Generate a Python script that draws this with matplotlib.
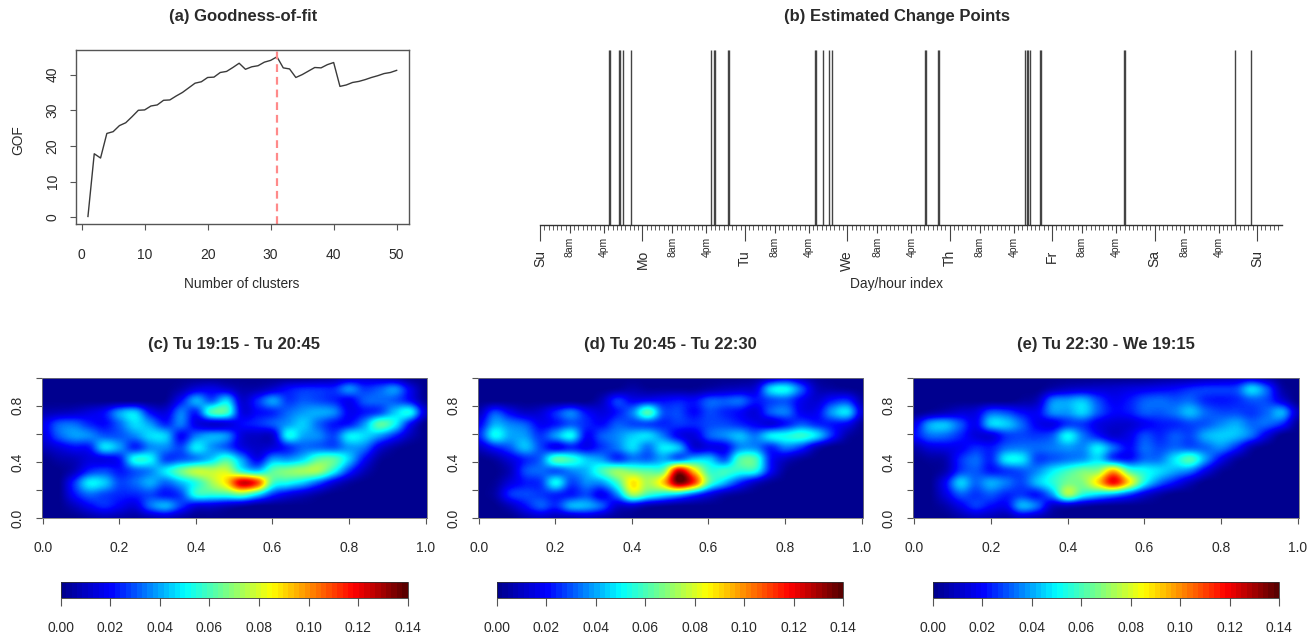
# ==============================================================
# Goodness-of-fit, change points and density maps, 5 panels
import numpy as np
import matplotlib
matplotlib.use("Agg")
import matplotlib.pyplot as plt
from matplotlib.cm import ScalarMappable
from matplotlib.colors import LinearSegmentedColormap, Normalize

plt.rcParams['font.family'] = ['Liberation Sans', 'DejaVu Sans']

# ==============================================================
# Data
n_clusters = list(range(1, 51))
gof = [0.2, 17.8, 16.6, 23.5, 24.0, 25.7, 26.5, 28.2, 30.0, 30.1,
       31.2, 31.5, 32.8, 32.9, 34.0, 35.0, 36.3, 37.6, 38.0, 39.2,
       39.3, 40.6, 40.9, 42.0, 43.2, 41.5, 42.2, 42.5, 43.5, 44.0,
       45.0, 41.9, 41.6, 39.2, 40.0, 41.0, 42.0, 41.9, 42.8, 43.4,
       36.7, 37.1, 37.8, 38.1, 38.6, 39.2, 39.7, 40.3, 40.6, 41.2]
best_k = 31

# change points, hours since Sunday midnight
change_points = [16.25, 16.5, 18.5, 18.75, 19.5, 21.25, 40.0, 40.75, 41.0, 44.0, 44.25,
                 64.5, 64.75, 66.25, 67.75, 68.5, 90.25, 90.5, 93.25, 93.5,
                 113.75, 114.0, 114.25, 114.75, 117.25, 117.5, 136.75, 137.0, 162.75, 166.5]
day_names = ['Su', 'Mo', 'Tu', 'We', 'Th', 'Fr', 'Sa', 'Su']
hour_names = ['8am', '4pm']
hour_offsets = [7, 15]

titles = ['(a) Goodness-of-fit', '(b) Estimated Change Points',
          '(c) Tu 19:15 - Tu 20:45', '(d) Tu 20:45 - Tu 22:30', '(e) Tu 22:30 - We 19:15']

# densities x 1000, rows from y=1 down to y=0, columns x=0 to x=1 (step .04)
density_c = [
    [0, 0, 0, 0, 0, 0, 0, 0, 0, 0, 0, 0, 0, 0, 0, 0, 0, 0, 2, 5, 10, 12, 10, 6, 0, 0],
    [0, 0, 0, 0, 0, 0, 0, 0, 0, 5, 14, 16, 12, 5, 6, 12, 20, 24, 24, 24, 36, 26, 30, 36, 16, 0],
    [0, 0, 0, 0, 0, 0, 0, 0, 2, 20, 40, 30, 45, 12, 24, 38, 26, 30, 28, 24, 18, 30, 32, 30, 20, 2],
    [6, 8, 10, 14, 20, 38, 44, 20, 14, 34, 24, 58, 58, 16, 20, 24, 32, 38, 40, 36, 18, 22, 28, 44, 50, 12],
    [16, 30, 32, 24, 20, 32, 46, 38, 24, 34, 16, 12, 14, 20, 24, 30, 38, 44, 32, 22, 22, 38, 62, 50, 20, 0],
    [14, 30, 38, 36, 30, 30, 36, 46, 44, 20, 34, 40, 36, 14, 10, 12, 50, 40, 36, 28, 48, 46, 38, 24, 8, 0],
    [8, 14, 20, 22, 46, 38, 24, 36, 36, 28, 48, 38, 30, 16, 10, 14, 24, 32, 32, 30, 38, 34, 14, 4, 0, 0],
    [0, 5, 8, 14, 16, 22, 52, 50, 28, 30, 36, 45, 58, 38, 18, 38, 38, 46, 62, 62, 44, 20, 3, 0, 0, 0],
    [0, 0, 8, 24, 28, 22, 30, 36, 48, 64, 76, 76, 78, 55, 45, 62, 68, 72, 72, 52, 26, 8, 0, 0, 0, 0],
    [0, 0, 24, 48, 44, 28, 32, 40, 32, 42, 55, 72, 90, 124, 110, 60, 52, 44, 30, 14, 4, 0, 0, 0, 0, 0],
    [0, 0, 20, 32, 28, 24, 24, 28, 22, 28, 54, 56, 58, 64, 48, 26, 16, 10, 4, 0, 0, 0, 0, 0, 0, 0],
    [0, 0, 8, 18, 24, 18, 14, 32, 40, 26, 14, 12, 8, 4, 0, 0, 0, 0, 0, 0, 0, 0, 0, 0, 0, 0],
    [0, 0, 0, 4, 7, 5, 3, 7, 10, 5, 0, 0, 0, 0, 0, 0, 0, 0, 0, 0, 0, 0, 0, 0, 0, 0],
]
density_d = [
    [0, 0, 0, 0, 0, 0, 0, 0, 0, 0, 0, 0, 0, 0, 0, 0, 0, 0, 2, 8, 14, 8, 2, 0, 0, 0],
    [0, 0, 0, 0, 0, 0, 0, 0, 0, 2, 5, 2, 2, 2, 2, 5, 8, 10, 14, 45, 50, 30, 8, 4, 2, 0],
    [0, 0, 0, 0, 0, 0, 0, 0, 8, 26, 18, 20, 20, 22, 20, 30, 30, 32, 22, 28, 30, 18, 12, 22, 25, 5],
    [8, 28, 18, 10, 12, 24, 34, 20, 14, 22, 35, 60, 30, 28, 20, 28, 24, 20, 14, 30, 34, 18, 18, 38, 46, 12],
    [18, 40, 35, 30, 18, 22, 30, 24, 20, 30, 28, 28, 24, 26, 24, 28, 28, 24, 18, 14, 22, 30, 24, 22, 18, 2],
    [24, 50, 40, 38, 26, 38, 50, 20, 30, 36, 44, 46, 34, 18, 14, 30, 36, 42, 34, 48, 52, 56, 46, 24, 5, 0],
    [10, 22, 30, 42, 28, 18, 24, 18, 26, 34, 46, 34, 48, 42, 14, 16, 18, 36, 36, 24, 34, 26, 8, 0, 0, 0],
    [0, 4, 14, 24, 32, 60, 56, 44, 38, 26, 34, 32, 40, 34, 44, 44, 30, 60, 60, 22, 10, 3, 0, 0, 0, 0],
    [0, 0, 8, 28, 32, 30, 36, 42, 58, 70, 66, 62, 66, 125, 92, 58, 58, 55, 52, 20, 2, 0, 0, 0, 0, 0],
    [0, 2, 14, 22, 26, 50, 28, 36, 38, 58, 88, 74, 92, 135, 112, 62, 42, 24, 10, 2, 0, 0, 0, 0, 0, 0],
    [0, 4, 24, 28, 26, 24, 22, 28, 18, 36, 72, 58, 50, 44, 30, 16, 6, 2, 0, 0, 0, 0, 0, 0, 0, 0],
    [0, 0, 8, 20, 30, 24, 40, 40, 30, 12, 12, 5, 2, 0, 0, 0, 0, 0, 0, 0, 0, 0, 0, 0, 0, 0],
    [0, 0, 0, 6, 10, 7, 7, 10, 6, 2, 0, 0, 0, 0, 0, 0, 0, 0, 0, 0, 0, 0, 0, 0, 0, 0],
]
density_e = [
    [0, 0, 0, 0, 0, 0, 0, 0, 0, 0, 0, 0, 0, 0, 0, 0, 2, 3, 4, 6, 8, 10, 12, 6, 0, 0],
    [0, 0, 0, 0, 0, 0, 0, 0, 0, 6, 10, 12, 12, 12, 14, 16, 18, 20, 24, 26, 26, 28, 45, 30, 5, 0],
    [0, 0, 0, 0, 0, 0, 0, 3, 8, 34, 38, 42, 28, 18, 22, 30, 32, 30, 32, 24, 22, 24, 30, 28, 14, 0],
    [0, 4, 8, 12, 14, 30, 28, 20, 18, 36, 38, 45, 30, 20, 22, 30, 30, 34, 42, 32, 28, 28, 26, 32, 40, 10],
    [15, 38, 42, 30, 18, 44, 44, 32, 18, 16, 26, 26, 16, 12, 12, 18, 22, 24, 28, 30, 36, 40, 32, 32, 24, 2],
    [20, 32, 32, 24, 14, 14, 26, 28, 26, 30, 50, 34, 22, 12, 16, 28, 24, 30, 28, 40, 44, 42, 32, 14, 0, 0],
    [6, 14, 16, 18, 24, 22, 32, 34, 32, 34, 38, 36, 48, 32, 20, 32, 28, 32, 30, 32, 36, 24, 6, 0, 0, 0],
    [0, 3, 6, 24, 32, 24, 48, 48, 28, 30, 34, 38, 46, 28, 22, 32, 34, 48, 60, 38, 18, 4, 0, 0, 0, 0],
    [0, 0, 6, 26, 30, 22, 26, 30, 36, 48, 58, 66, 70, 95, 62, 52, 46, 40, 34, 16, 3, 0, 0, 0, 0, 0],
    [0, 0, 18, 44, 32, 40, 34, 28, 42, 54, 66, 68, 90, 118, 88, 52, 32, 20, 8, 0, 0, 0, 0, 0, 0, 0],
    [0, 0, 14, 30, 26, 30, 24, 26, 22, 38, 72, 54, 46, 40, 28, 14, 5, 0, 0, 0, 0, 0, 0, 0, 0, 0],
    [0, 0, 5, 16, 26, 20, 18, 40, 32, 10, 8, 4, 1, 0, 0, 0, 0, 0, 0, 0, 0, 0, 0, 0, 0, 0],
    [0, 0, 0, 5, 9, 7, 5, 11, 7, 2, 0, 0, 0, 0, 0, 0, 0, 0, 0, 0, 0, 0, 0, 0, 0, 0],
]

# ==============================================================
# Style
W, H = 1309, 633
TEXT = '#2a2a2a'
AXCOL = '#555555'
tim_anchors = [(0.0, '#00008f'), (0.14, '#0000ff'), (0.357, '#00ffff'), (0.61, '#ffff00'),
               (0.85, '#ff0000'), (1.0, '#5a0000')]
map_colors = LinearSegmentedColormap.from_list('tim_smooth', tim_anchors, N=256)
bar_colors = LinearSegmentedColormap.from_list('tim_bar', tim_anchors, N=64)


def px_axes(fig, left, right, top, bottom):
    return fig.add_axes([left / W, 1 - bottom / H, (right - left) / W, (bottom - top) / H])


def px_text(fig, x, y, s, **kw):
    kw.setdefault('color', TEXT)
    fig.text(x / W, 1 - y / H, s, ha='center', va='center', **kw)


fig = plt.figure(figsize=(W / 100, H / 100), dpi=100)

# ==============================================================
# (a)
ax = px_axes(fig, 75.6, 409, 50.4, 223.6)
ax.plot(n_clusters, gof, color='#3a3a3a', lw=1.0)
ax.axvline(best_k, color='#ff8a8a', lw=1.6, ls=(0, (3.5, 2.2)))
ax.set_xlim(-0.96, 51.96)
ax.set_ylim(-1.8, 46.8)
ax.set_xticks(range(0, 51, 10))
ax.set_yticks(range(0, 41, 10))
ax.tick_params(axis='x', length=4.5, width=0.8, color=AXCOL, labelsize=10, labelcolor=TEXT, pad=13)
ax.tick_params(axis='y', length=4.5, width=0.8, color=AXCOL, labelsize=10, labelcolor=TEXT, pad=7,
               labelrotation=90)
for lab in ax.get_yticklabels():
    lab.set_va('center')
for sp in ax.spines.values():
    sp.set_color(AXCOL)
    sp.set_linewidth(1.0)
px_text(fig, 242, 284, 'Number of clusters', fontsize=9.9)
px_text(fig, 18, 140, 'GOF', fontsize=9.9, rotation=90)
px_text(fig, 243, 17, titles[0], fontsize=12, fontweight='bold')

# ==============================================================
# (b)
ax = px_axes(fig, 540, 1281.7, 50, 224.5)
ax.vlines(change_points, 0, 1, color='#444444', lw=1.0)
ax.set_xlim(0, 173.8)
ax.set_ylim(0, 1)
ax.set_yticks([])
for name in ['top', 'left', 'right']:
    ax.spines[name].set_visible(False)
ax.spines['bottom'].set_color('#333333')
ax.spines['bottom'].set_linewidth(1.0)

day_pos = [24 * d for d in range(len(day_names))]
hour_pos = [24 * d + h for d in range(7) for h in hour_offsets]
hour_labs = [n for d in range(7) for n in hour_names]
ax.set_xticks(day_pos + hour_pos)
ax.set_xticklabels([])
ax.set_xticks(range(0, 174), minor=True)
ax.tick_params(axis='x', which='minor', length=3.6, width=0.6, color='#444444')
ax.tick_params(axis='x', which='major', width=0.8, color='#444444')
for tick, pos in zip(ax.xaxis.get_major_ticks(), day_pos + hour_pos):
    tick.tick1line.set_markersize(11.5 if pos in day_pos else 6)

trans = ax.get_xaxis_transform()
for pos, name in zip(day_pos, day_names):
    ax.text(pos, -25.5 / 174.5, name, transform=trans, rotation=90, ha='center', va='top',
            fontsize=10, color=TEXT)
for pos, name in zip(hour_pos, hour_labs):
    ax.text(pos, -12.5 / 174.5, name, transform=trans, rotation=90, ha='center', va='top',
            fontsize=7.5, color=TEXT)
px_text(fig, 897, 284, 'Day/hour index', fontsize=9.9)
px_text(fig, 897, 17, titles[1], fontsize=12, fontweight='bold')

# ==============================================================
# (c) (d) (e)
panels = [density_c, density_d, density_e]
img_left = [41.7, 477.7, 913.3]
img_right = [426.7, 862.7, 1299]
bar_left = [60.7, 496.7, 932.7]
bar_right = [407.7, 843.3, 1279.3]
title_x = [234, 670, 1106]

for ii in range(3):
    ax = px_axes(fig, img_left[ii], img_right[ii], 377.7, 518.3)
    grid = np.array(panels[ii]) / 1000.0
    dy = 1 / 24
    ax.imshow(grid, cmap=map_colors, vmin=0, vmax=0.14, aspect='auto',
              interpolation='catrom', extent=[-0.02, 1.02, -dy, 1 + dy])
    ax.set_xlim(-0.003, 1.003)
    ax.set_ylim(0, 1)
    ax.set_xticks(np.arange(0, 1.01, 0.2))
    ax.set_yticks(np.arange(0, 1.01, 0.2))
    ax.set_xticklabels(['%.1f' % v for v in np.arange(0, 1.01, 0.2)])
    ax.set_yticklabels(['0.0', '', '0.4', '', '0.8', ''], rotation=90, va='center')
    ax.tick_params(axis='x', length=4.5, width=0.8, color=AXCOL, labelsize=10, labelcolor=TEXT, pad=12)
    ax.tick_params(axis='y', length=4.5, width=0.8, color=AXCOL, labelsize=10, labelcolor=TEXT, pad=8)
    for sp in ax.spines.values():
        sp.set_color('#777777')
        sp.set_linewidth(0.6)
    px_text(fig, title_x[ii], 345, titles[ii + 2], fontsize=12, fontweight='bold')

    cax = px_axes(fig, bar_left[ii], bar_right[ii], 582.3, 598.3)
    sm = ScalarMappable(norm=Normalize(0, 0.14), cmap=bar_colors)
    cb = fig.colorbar(sm, cax=cax, orientation='horizontal')
    cb.set_ticks(np.arange(0, 0.141, 0.02))
    cb.set_ticklabels(['%.2f' % v for v in np.arange(0, 0.141, 0.02)])
    cb.ax.tick_params(length=6, width=0.8, color=AXCOL, labelsize=10, labelcolor=TEXT, pad=10)
    cb.outline.set_edgecolor('#333333')
    cb.outline.set_linewidth(0.6)

fig.savefig('out.png', dpi=100)
